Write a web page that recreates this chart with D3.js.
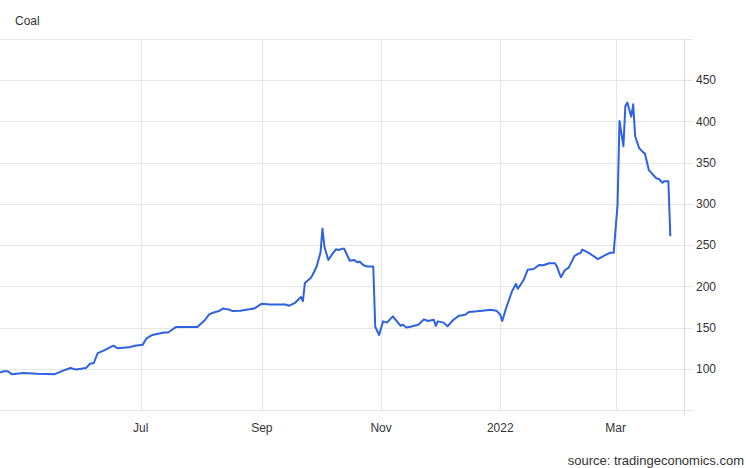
<!DOCTYPE html>
<html>
<head>
<meta charset="utf-8">
<script src="https://cdn.jsdelivr.net/npm/d3@7"></script>
<style>
  html, body { margin: 0; padding: 0; background: #fff; }
  svg { display: block; }
  text { font-family: "Liberation Sans", Arial, sans-serif; fill: #333; }
</style>
</head>
<body>
<svg id="chart" width="746" height="468"></svg>
<script>
const title = "Coal";
const source = "source: tradingeconomics.com";

const dates = [
  "2021-04-20","2021-04-22","2021-04-24","2021-04-26","2021-05-02","2021-05-09","2021-05-18","2021-05-22","2021-05-26","2021-05-29",
  "2021-06-03","2021-06-05","2021-06-07","2021-06-09","2021-06-12","2021-06-17","2021-06-19","2021-06-25","2021-06-28",
  "2021-07-02","2021-07-04","2021-07-07","2021-07-13","2021-07-15","2021-07-19","2021-07-30",
  "2021-08-03","2021-08-05","2021-08-07","2021-08-10","2021-08-12","2021-08-15","2021-08-17","2021-08-21","2021-08-28",
  "2021-09-01","2021-09-05","2021-09-13","2021-09-15","2021-09-18","2021-09-21","2021-09-22","2021-09-23","2021-09-26","2021-09-27","2021-09-29",
  "2021-10-01","2021-10-02","2021-10-03","2021-10-05","2021-10-07","2021-10-09","2021-10-10","2021-10-13","2021-10-14","2021-10-16",
  "2021-10-18","2021-10-20","2021-10-21","2021-10-23","2021-10-25","2021-10-28","2021-10-29","2021-10-31",
  "2021-11-02","2021-11-04","2021-11-07","2021-11-08","2021-11-11","2021-11-12","2021-11-14","2021-11-16","2021-11-20","2021-11-23",
  "2021-11-25","2021-11-28","2021-11-29","2021-11-30",
  "2021-12-03","2021-12-05","2021-12-08","2021-12-11","2021-12-14","2021-12-16","2021-12-20","2021-12-23","2021-12-27","2021-12-30",
  "2022-01-01","2022-01-02","2022-01-04","2022-01-07","2022-01-09","2022-01-10","2022-01-13","2022-01-15","2022-01-18","2022-01-21",
  "2022-01-23","2022-01-26","2022-01-29","2022-01-30",
  "2022-02-01","2022-02-03","2022-02-05","2022-02-08","2022-02-10","2022-02-11","2022-02-12","2022-02-15","2022-02-20","2022-02-23",
  "2022-02-26","2022-02-28",
  "2022-03-02","2022-03-03","2022-03-05","2022-03-06","2022-03-07","2022-03-09","2022-03-10","2022-03-11","2022-03-13","2022-03-15",
  "2022-03-16","2022-03-18","2022-03-20","2022-03-22","2022-03-23","2022-03-25","2022-03-26","2022-03-28","2022-03-29"
];
const values = [
  95.5,97,97,93.5,95,94,93.5,97.5,101,99,
  101,106,107,119,122,128,125,126,128,
  129,137,141,144,144,150.6,150.6,
  159.5,166,168,170,173,172,170,170.5,173,
  179,178,178,176.5,180,187,182,204,210,214,224,
  241,270,248,232,239,245,244,246,241,231,
  232,229,230,225.5,224,224,151,141,
  157.5,156,163.5,160.7,152,153.5,150,151,153.5,160,
  158,159.5,152,157.5,
  156,151.5,159.5,164.4,165.6,169,169.7,170.5,171.7,170.5,
  165.6,158,173.7,194,203,197,208,220,221,226,
  225.5,228,228,224,
  211,219.5,222.7,237,239.7,240,244.6,241,233,237,
  240.6,240.6,
  299,400.5,370,418.7,422.9,405.8,420.8,382,368,362.8,
  361,341,335.7,330.8,330.5,325.6,327.6,327.6,260.7
];
const xDomain = ["2021-04-20","2022-04-05"];
const xTickDates = ["2021-07-01","2021-09-01","2021-11-01","2022-01-01","2022-03-01"];
const yDomain = [50, 500];
const yTicks = [100,150,200,250,300,350,400,450];

const parse = d3.timeParse("%Y-%m-%d");
const data = dates.map((d, i) => ({ date: parse(d), value: values[i] }));

const svg = d3.select("#chart");
const plot = { left: 0, right: 684, top: 39, bottom: 410 };

const x = d3.scaleTime().domain(xDomain.map(parse)).range([plot.left, plot.right]);
const y = d3.scaleLinear().domain(yDomain).range([plot.bottom, plot.top]);

const gridColor = "#e6e6e6";

// horizontal grid (incl. borders) with tick stubs to the right
const allY = [yDomain[0], ...yTicks, yDomain[1]];
svg.append("g").selectAll("line").data(allY).join("line")
  .attr("x1", plot.left).attr("x2", plot.right + 9)
  .attr("y1", d => Math.round(y(d)) + 0.5).attr("y2", d => Math.round(y(d)) + 0.5)
  .attr("stroke", gridColor).attr("stroke-width", 1);

// vertical grid
const xt = xTickDates.map(parse);
svg.append("g").selectAll("line").data(xt).join("line")
  .attr("x1", d => Math.round(x(d)) + 0.5).attr("x2", d => Math.round(x(d)) + 0.5)
  .attr("y1", plot.top).attr("y2", plot.bottom)
  .attr("stroke", gridColor).attr("stroke-width", 1);

// right axis line
svg.append("line")
  .attr("x1", plot.right + 0.5).attr("x2", plot.right + 0.5)
  .attr("y1", plot.top).attr("y2", plot.bottom + 5)
  .attr("stroke", "#dcdcdc");

// y labels
svg.append("g").selectAll("text").data(yTicks).join("text")
  .attr("x", plot.right + 12).attr("y", d => y(d))
  .attr("dy", "0.35em")
  .attr("font-size", 12)
  .text(d => d);

// x labels
const fmt = d => d.getMonth() === 0 ? d3.timeFormat("%Y")(d) : d3.timeFormat("%b")(d);
svg.append("g").selectAll("text").data(xt).join("text")
  .attr("x", d => x(d)).attr("y", plot.bottom + 22)
  .attr("text-anchor", "middle")
  .attr("font-size", 12)
  .text(fmt);

// line
const line = d3.line().x(d => x(d.date)).y(d => y(d.value));
svg.append("path").datum(data)
  .attr("d", line)
  .attr("fill", "none")
  .attr("stroke", "#2d62e3")
  .attr("stroke-width", 2)
  .attr("stroke-linejoin", "round");

// title
svg.append("text").attr("x", 15).attr("y", 25).attr("font-size", 12).text(title);

// source
svg.append("text").attr("x", 744).attr("y", 465).attr("text-anchor", "end")
  .attr("font-size", 13).text(source);
</script>
</body>
</html>
